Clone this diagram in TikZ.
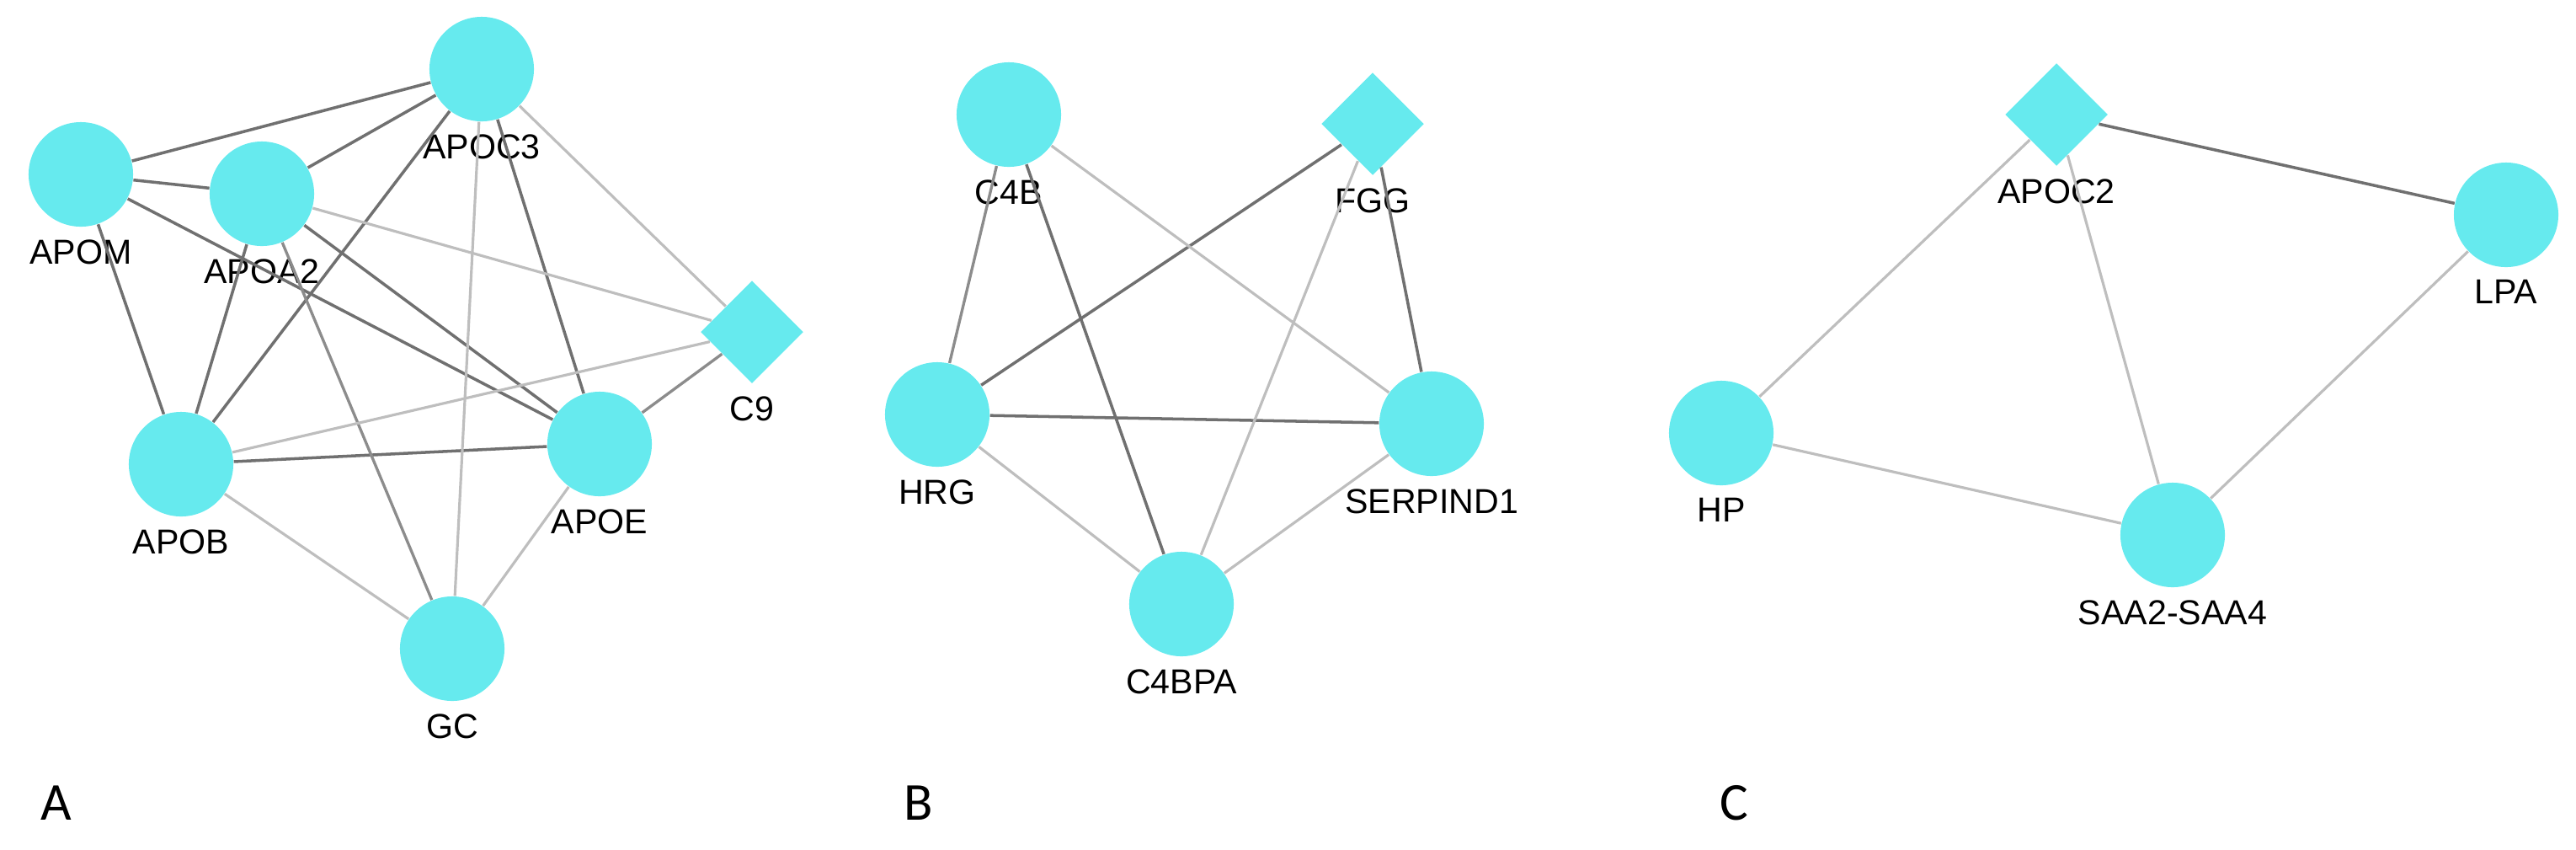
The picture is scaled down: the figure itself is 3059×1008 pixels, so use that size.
\documentclass[tikz,border=0pt]{standalone}
\usepackage{fontspec}
\setmainfont{Liberation Sans}
\newfontfamily\panelfont{Carlito}
\usetikzlibrary{shapes.geometric}
\definecolor{nodecyan}{RGB}{102,234,238}
\definecolor{edgedark}{RGB}{112,112,112}
\definecolor{edgemid}{RGB}{140,140,140}
\definecolor{edgelight}{RGB}{190,190,190}
\tikzset{
  lab/.style={font=\fontsize{11.7}{14}\selectfont,inner sep=0pt},
  prot/.style={circle,fill=nodecyan,minimum size=1.24cm,inner sep=0pt},
  kdia/.style={diamond,aspect=1,fill=nodecyan,minimum size=1.22cm,inner sep=0pt},
  dk/.style={draw=edgedark,line width=1pt},
  md/.style={draw=edgemid,line width=0.95pt},
  lt/.style={draw=edgelight,line width=0.9pt},
  panel/.style={font=\panelfont\fontsize{18}{20}\selectfont,inner sep=0pt}
}

\begin{document}
\begin{tikzpicture}[x=0.01cm,y=-0.01cm,label distance=0.14cm]
        \useasboundingbox (0,0) rectangle (3059,1008) ;
        % panel A
        \node[prot,label={[lab]below:APOM}] (apom) at (96,207) {} ;
        \node[prot,label={[lab]below:APOA2}] (apoa2) at (311,230) {} ;
        \node[prot,label={[lab]below:APOC3}] (apoc3) at (572,82) {} ;
        \node[kdia,label={[lab]below:C9}] (c9) at (893,394) {} ;
        \node[prot,label={[lab]below:APOB}] (apob) at (215,551) {} ;
        \node[prot,label={[lab]below:APOE}] (apoe) at (712,527) {} ;
        \node[prot,label={[lab]below:GC}] (gc) at (537,770) {} ;
        \draw[dk] (apom) -- (apoc3) ;
        \draw[dk] (apom) -- (apoa2) ;
        \draw[dk] (apom) -- (apoe) ;
        \draw[dk] (apom) -- (apob) ;
        \draw[dk] (apoa2) -- (apoc3) ;
        \draw[dk] (apoa2) -- (apoe) ;
        \draw[dk] (apoa2) -- (apob) ;
        \draw[dk] (apoc3) -- (apob) ;
        \draw[dk] (apoc3) -- (apoe) ;
        \draw[dk] (apob) -- (apoe) ;
        \draw[md] (apoa2) -- (gc) ;
        \draw[md] (c9) -- (apoe) ;
        \draw[lt] (apoa2) -- (c9) ;
        \draw[lt] (apoc3) -- (gc) ;
        \draw[lt] (apoc3) -- (c9) ;
        \draw[lt] (c9) -- (apob) ;
        \draw[lt] (apob) -- (gc) ;
        \draw[lt] (apoe) -- (gc) ;
        \node[panel] (pa) at (67,953) {A} ;
        % panel B
        \node[prot,label={[lab]below:C4B}] (c4b) at (1198,136) {} ;
        \node[kdia,label={[lab]below:FGG}] (fgg) at (1630,147) {} ;
        \node[prot,label={[lab]below:HRG}] (hrg) at (1113,492) {} ;
        \node[prot,label={[lab]below:SERPIND1}] (serpind1) at (1700,503) {} ;
        \node[prot,label={[lab]below:C4BPA}] (c4bpa) at (1403,717) {} ;
        \draw[dk] (c4b) -- (c4bpa) ;
        \draw[dk] (fgg) -- (hrg) ;
        \draw[dk] (fgg) -- (serpind1) ;
        \draw[dk] (hrg) -- (serpind1) ;
        \draw[md] (c4b) -- (hrg) ;
        \draw[lt] (c4b) -- (serpind1) ;
        \draw[lt] (fgg) -- (c4bpa) ;
        \draw[lt] (hrg) -- (c4bpa) ;
        \draw[lt] (serpind1) -- (c4bpa) ;
        \node[panel] (pb) at (1091,953) {B} ;
        % panel C
        \node[kdia,label={[lab]below:APOC2}] (apoc2) at (2442,136) {} ;
        \node[prot,label={[lab]below:LPA}] (lpa) at (2976,255) {} ;
        \node[prot,label={[lab]below:HP}] (hp) at (2044,514) {} ;
        \node[prot,label={[lab]below:SAA2-SAA4}] (saa) at (2580,635) {} ;
        \draw[dk] (apoc2) -- (lpa) ;
        \draw[lt] (apoc2) -- (hp) ;
        \draw[lt] (apoc2) -- (saa) ;
        \draw[lt] (hp) -- (saa) ;
        \draw[lt] (lpa) -- (saa) ;
        \node[panel] (pc) at (2059,953) {C} ;
      \end{tikzpicture}
\end{document}
